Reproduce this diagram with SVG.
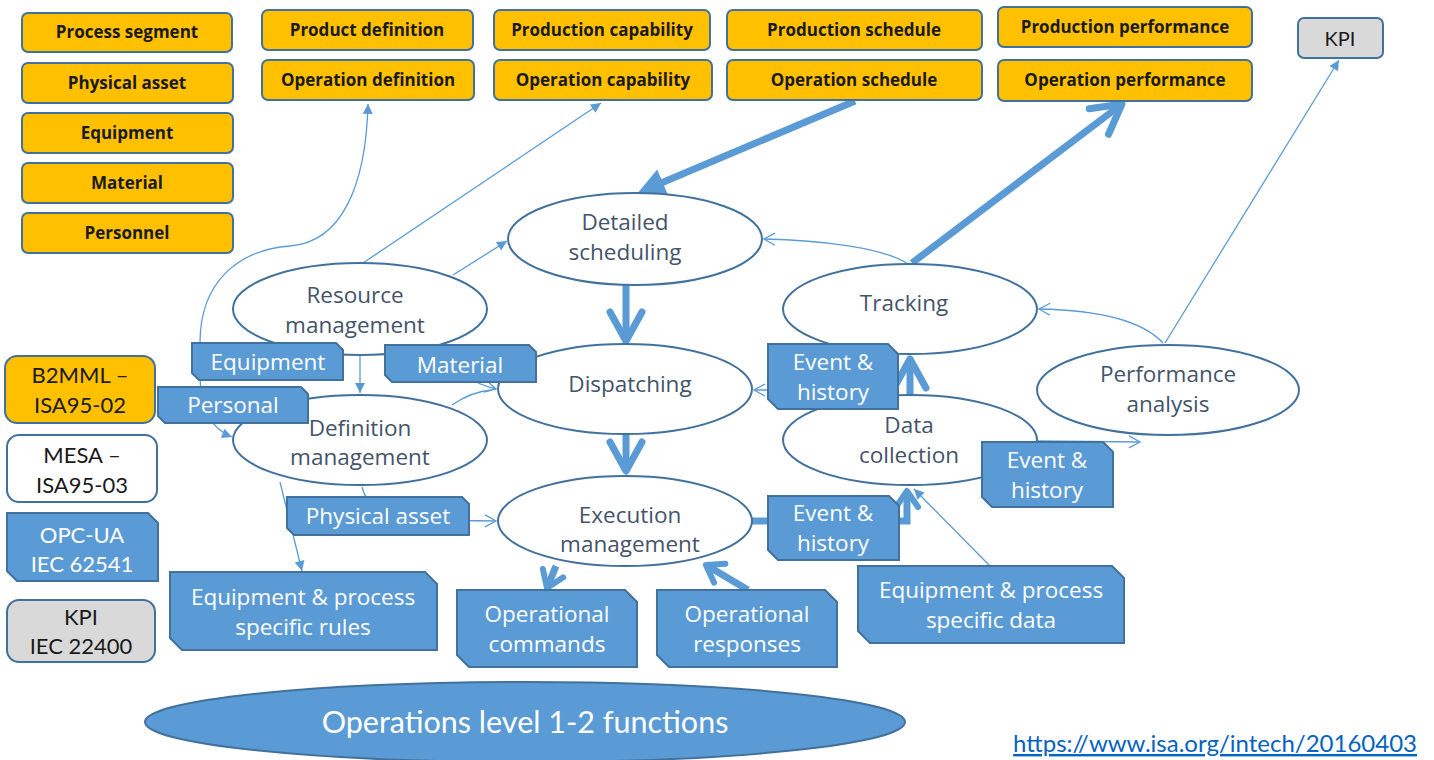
<svg xmlns="http://www.w3.org/2000/svg" width="1434" height="760" viewBox="0 0 1434 760">
<style>
.ob{fill:#FFC000;stroke:#41719C;stroke-width:2}
.obt{font-family:"Open Sans","Liberation Sans",sans-serif;font-weight:bold;font-size:17px;fill:#1a1a1a;text-anchor:middle}
.el{fill:#fff;stroke:#41719C;stroke-width:2}
.elt{font-family:"Open Sans","Liberation Sans",sans-serif;font-size:22.5px;fill:#44546A;text-anchor:middle}
.tag{fill:#5B9BD5;stroke:#41719C;stroke-width:2}
.tgt{font-family:"Open Sans","Liberation Sans",sans-serif;font-size:22.5px;fill:#fff;text-anchor:middle}
.lg{font-family:Lato,"Liberation Sans",sans-serif;font-size:22px;fill:#1a1a1a;text-anchor:middle}
.thin{fill:none;stroke:#5B9BD5;stroke-width:1.3}
.thick{fill:none;stroke:#5B9BD5;stroke-width:7}
</style>
<defs>
<marker id="tri" markerUnits="userSpaceOnUse" viewBox="-12 -7 14 14" refX="0" refY="0" markerWidth="14" markerHeight="14" orient="auto-start-reverse">
<path d="M0,0 L-10,-5 L-10,5 Z" fill="#5B9BD5"/>
</marker>
<marker id="open" markerUnits="userSpaceOnUse" viewBox="-14 -8 16 16" refX="0" refY="0" markerWidth="16" markerHeight="16" orient="auto">
<path d="M-11,-6 L0,0 L-11,6" fill="none" stroke="#5B9BD5" stroke-width="1.3"/>
</marker>
<marker id="chev" markerUnits="userSpaceOnUse" viewBox="-38 -24 46 48" refX="0" refY="0" markerWidth="46" markerHeight="48" orient="auto">
<path d="M-29,-16 L0,0 L-29,16" fill="none" stroke="#5B9BD5" stroke-width="7" stroke-linecap="round" stroke-linejoin="round"/>
</marker>
<marker id="chevS" markerUnits="userSpaceOnUse" viewBox="-24 -18 30 36" refX="0" refY="0" markerWidth="30" markerHeight="36" orient="auto">
<path d="M-16,-11 L0,0 L-16,11" fill="none" stroke="#5B9BD5" stroke-width="6" stroke-linecap="round" stroke-linejoin="round"/>
</marker>
<marker id="bigtri" markerUnits="userSpaceOnUse" viewBox="-20 -16 34 32" refX="0" refY="0" markerWidth="34" markerHeight="32" orient="auto">
<path d="M10,0 L-17,-14 L-17,14 Z" fill="#5B9BD5"/>
</marker>
</defs>
<rect width="1434" height="760" fill="#fff"/>

<g id="connectors">
<path class="thin" d="M232,437 C214,430 200,412 200,375 L200,343 C200,282 238,250 290,246 C342,242 366,185 368,104" marker-start="url(#tri)" marker-end="url(#tri)"/>
<path class="thin" d="M363,263 L601,103" marker-end="url(#tri)"/>
<path class="thin" d="M453,275 L507,241" marker-end="url(#tri)"/>
<path class="thin" d="M360,355 L360,393" marker-end="url(#tri)"/>
<path class="thin" d="M440,352 C455,372 472,383 496,389" marker-end="url(#open)"/>
<path class="thin" d="M452,405 C465,396 478,391 492,390"/>
<path class="thin" d="M362,487 C366,505 385,520 420,520 L496,521" marker-end="url(#open)"/>
<path class="thin" d="M280,482 L302,571" marker-end="url(#tri)"/>
<path class="thin" d="M908,264 C885,248 820,240 764,239" marker-end="url(#open)"/>
<path class="thin" d="M790,390 L754,390" marker-end="url(#open)"/>
<path class="thin" d="M1163,343 C1140,318 1090,310 1039,309" marker-end="url(#open)"/>
<path class="thin" d="M1165,343 L1339,60" marker-end="url(#tri)"/>
<path class="thin" d="M1037,441 L1140,442" marker-end="url(#open)"/>
<path class="thin" d="M990,566 L914,489" marker-end="url(#tri)"/>
<path class="thick" d="M855,101 L647,189" marker-end="url(#bigtri)"/>
<path class="thick" d="M912,263 L1122,104" marker-end="url(#chev)"/>
<path class="thick" d="M626,285 L626,341" marker-end="url(#chev)"/>
<path class="thick" d="M626,434 L626,471" marker-end="url(#chev)"/>
<path class="thick" d="M910,395 L910,359" marker-end="url(#chev)"/>
<path class="thick" d="M752,521 L907,521 L907,491" marker-end="url(#chevS)"/>
<path class="thick" d="M556,566 L547,588" marker-end="url(#chevS)"/>
<path class="thick" d="M748,590 L706,565" marker-end="url(#chevS)"/>
</g>

<g id="process-segment"><rect class="ob" x="22" y="13" width="210" height="39" rx="6"/><text class="obt" x="127" y="38">Process segment</text></g>
<g id="physical-asset-box"><rect class="ob" x="22" y="63" width="211" height="40" rx="6"/><text class="obt" x="127" y="89">Physical asset</text></g>
<g id="equipment-box"><rect class="ob" x="22" y="113" width="211" height="40" rx="6"/><text class="obt" x="127" y="139">Equipment</text></g>
<g id="material-box"><rect class="ob" x="22" y="163" width="211" height="40" rx="6"/><text class="obt" x="127" y="189">Material</text></g>
<g id="personnel-box"><rect class="ob" x="22" y="213" width="211" height="40" rx="6"/><text class="obt" x="127" y="239">Personnel</text></g>
<g id="product-definition"><rect class="ob" x="262" y="10" width="211" height="40" rx="6"/><text class="obt" x="367" y="36">Product definition</text></g>
<g id="operation-definition"><rect class="ob" x="262" y="60" width="212" height="40" rx="6"/><text class="obt" x="368" y="86">Operation definition</text></g>
<g id="production-capability"><rect class="ob" x="494" y="10" width="216" height="40" rx="6"/><text class="obt" x="602" y="36">Production capability</text></g>
<g id="operation-capability"><rect class="ob" x="494" y="60" width="218" height="40" rx="6"/><text class="obt" x="603" y="86">Operation capability</text></g>
<g id="production-schedule"><rect class="ob" x="727" y="10" width="255" height="40" rx="6"/><text class="obt" x="854" y="36">Production schedule</text></g>
<g id="operation-schedule"><rect class="ob" x="727" y="60" width="255" height="40" rx="6"/><text class="obt" x="854" y="86">Operation schedule</text></g>
<g id="production-performance"><rect class="ob" x="998" y="7" width="254" height="40" rx="6"/><text class="obt" x="1125" y="33">Production performance</text></g>
<g id="operation-performance"><rect class="ob" x="998" y="60" width="254" height="41" rx="6"/><text class="obt" x="1125" y="86">Operation performance</text></g>
<g id="kpi-top"><rect x="1298" y="18" width="85" height="40" rx="6" fill="#D9D9D9" stroke="#41719C" stroke-width="2"/><text class="lg" x="1340" y="46" style="font-size:20px">KPI</text></g>

<g id="legend-b2mml"><rect x="5" y="356" width="150" height="67" rx="12" fill="#FFC000" stroke="#41719C" stroke-width="2"/><text class="lg" x="80" y="383">B2MML –</text><text class="lg" x="80" y="413">ISA95-02</text></g>
<g id="legend-mesa"><rect x="7" y="435" width="150" height="67" rx="12" fill="#fff" stroke="#41719C" stroke-width="2"/><text class="lg" x="82" y="463">MESA –</text><text class="lg" x="82" y="493">ISA95-03</text></g>
<g id="legend-opcua"><path class="tag" d="M7,513 L148,513 L158,523 L158,581 L17,581 L7,571 Z"/><text class="lg" x="82" y="543" style="fill:#fff">OPC-UA</text><text class="lg" x="82" y="572" style="fill:#fff">IEC 62541</text></g>
<g id="legend-kpi"><rect x="7" y="600" width="148" height="62" rx="12" fill="#D9D9D9" stroke="#41719C" stroke-width="2"/><text class="lg" x="81" y="625">KPI</text><text class="lg" x="81" y="654">IEC 22400</text></g>

<g id="detailed-scheduling"><ellipse class="el" cx="635" cy="239" rx="127" ry="46"/><text class="elt" x="625" y="230">Detailed</text><text class="elt" x="625" y="260">scheduling</text></g>
<g id="resource-management"><ellipse class="el" cx="360" cy="309" rx="127" ry="46"/><text class="elt" x="355" y="303">Resource</text><text class="elt" x="355" y="333">management</text></g>
<g id="dispatching"><ellipse class="el" cx="625" cy="389" rx="127" ry="45"/><text class="elt" x="630" y="392">Dispatching</text></g>
<g id="execution-management"><ellipse class="el" cx="625" cy="521" rx="127" ry="45"/><text class="elt" x="630" y="523">Execution</text><text class="elt" x="630" y="552">management</text></g>
<g id="definition-management"><ellipse class="el" cx="360" cy="440" rx="127" ry="45"/><text class="elt" x="360" y="436">Definition</text><text class="elt" x="360" y="465">management</text></g>
<g id="tracking"><ellipse class="el" cx="910" cy="309" rx="127" ry="45"/><text class="elt" x="904" y="311">Tracking</text></g>
<g id="data-collection"><ellipse class="el" cx="910" cy="440" rx="127" ry="45"/><text class="elt" x="909" y="433">Data</text><text class="elt" x="909" y="463">collection</text></g>
<g id="performance-analysis"><ellipse class="el" cx="1168" cy="390" rx="131" ry="45"/><text class="elt" x="1168" y="382">Performance</text><text class="elt" x="1168" y="412">analysis</text></g>

<g id="tag-equipment"><path class="tag" d="M192,343 L336,343 L343,350 L343,380 L199,380 L192,373 Z"/><text class="tgt" x="268" y="370">Equipment</text></g>
<g id="tag-personal"><path class="tag" d="M158,387 L301,387 L308,394 L308,423 L165,423 L158,416 Z"/><text class="tgt" x="233" y="413">Personal</text></g>
<g id="tag-material"><path class="tag" d="M385,345 L529,345 L536,352 L536,382 L392,382 L385,375 Z"/><text class="tgt" x="460" y="373">Material</text></g>
<g id="tag-physical-asset"><path class="tag" d="M287,497 L462,497 L469,504 L469,535 L294,535 L287,528 Z"/><text class="tgt" x="378" y="524">Physical asset</text></g>
<g id="tag-event-top"><path class="tag" d="M768,344 L888,344 L898,354 L898,409 L778,409 L768,399 Z"/><text class="tgt" x="833" y="370">Event &amp;</text><text class="tgt" x="833" y="400">history</text></g>
<g id="tag-event-right"><path class="tag" d="M982,442 L1103,442 L1113,452 L1113,507 L992,507 L982,497 Z"/><text class="tgt" x="1047" y="468">Event &amp;</text><text class="tgt" x="1047" y="498">history</text></g>
<g id="tag-event-bottom"><path class="tag" d="M768,496 L889,496 L899,506 L899,560 L778,560 L768,550 Z"/><text class="tgt" x="833" y="521">Event &amp;</text><text class="tgt" x="833" y="551">history</text></g>
<g id="tag-rules"><path class="tag" d="M170,572 L425,572 L437,584 L437,650 L182,650 L170,638 Z"/><text class="tgt" x="303" y="605">Equipment &amp; process</text><text class="tgt" x="303" y="635">specific rules</text></g>
<g id="tag-commands"><path class="tag" d="M457,590 L625,590 L637,602 L637,667 L469,667 L457,655 Z"/><text class="tgt" x="547" y="622">Operational</text><text class="tgt" x="547" y="652">commands</text></g>
<g id="tag-responses"><path class="tag" d="M657,590 L825,590 L837,602 L837,667 L669,667 L657,655 Z"/><text class="tgt" x="747" y="622">Operational</text><text class="tgt" x="747" y="652">responses</text></g>
<g id="tag-data"><path class="tag" d="M858,566 L1112,566 L1124,578 L1124,643 L870,643 L858,631 Z"/><text class="tgt" x="991" y="598">Equipment &amp; process</text><text class="tgt" x="991" y="628">specific data</text></g>

<g id="operations-level"><ellipse cx="525" cy="722" rx="380" ry="40" fill="#5B9BD5" stroke="#41719C" stroke-width="2"/><text x="525" y="733" style="font-family:Lato,'Liberation Sans',sans-serif;font-size:30.5px;fill:#fff;text-anchor:middle">Operations level 1-2 functions</text></g>

<g id="source-url"><text x="1417" y="752" style="font-family:Lato,'Liberation Sans',sans-serif;font-size:24px;fill:#0563C1;text-anchor:end;text-decoration:underline">https://www.isa.org/intech/20160403</text></g>
</svg>
